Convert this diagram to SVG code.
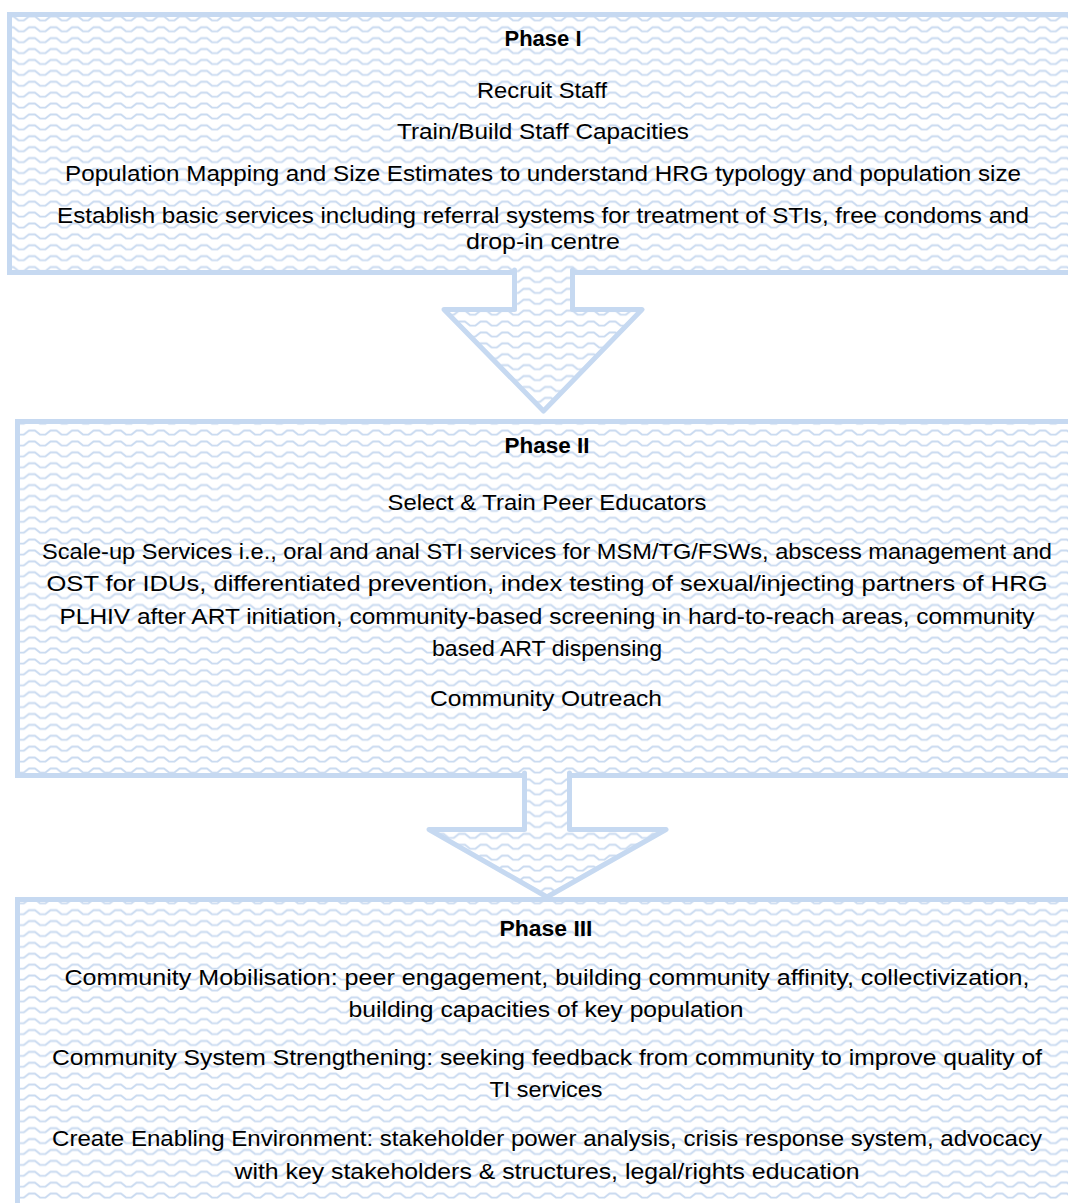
<svg xmlns="http://www.w3.org/2000/svg" width="1068" height="1203" viewBox="0 0 1068 1203">
<defs>
<pattern id="wave" patternUnits="userSpaceOnUse" x="0" y="2" width="21.5" height="10.9">
<rect width="21.5" height="10.9" fill="#ffffff"/>
<path d="M-1 7.5 L2.5 7.5 L7.5 3.5 L13.5 3.5 L18.5 7.5 L22.5 7.5" fill="none" stroke="#c9daf0" stroke-width="1.8"/>
</pattern>
</defs>
<style>
.box{fill:url(#wave);stroke:#c6d9f1;stroke-width:5}
.afill{fill:url(#wave);stroke:none}
.aline{fill:none;stroke:#c6d9f1;stroke-width:5;stroke-linejoin:round;stroke-linecap:round}
text{font-family:"Liberation Sans",Arial,sans-serif;font-size:22px;fill:#000;text-anchor:middle}
.t{font-weight:bold}
</style>
<rect width="1068" height="1203" fill="#ffffff"/>
<g id="phase1">
<rect class="box" x="9.5" y="14.5" width="1075" height="258"/>
<text class="t" x="543" y="46" textLength="77" lengthAdjust="spacingAndGlyphs">Phase I</text>
<text x="542" y="98" textLength="130" lengthAdjust="spacingAndGlyphs">Recruit Staff</text>
<text x="543" y="139" textLength="292" lengthAdjust="spacingAndGlyphs">Train/Build Staff Capacities</text>
<text x="543" y="181" textLength="956" lengthAdjust="spacingAndGlyphs">Population Mapping and Size Estimates to understand HRG typology and population size</text>
<text x="543" y="223" textLength="972" lengthAdjust="spacingAndGlyphs">Establish basic services including referral systems for treatment of STIs, free condoms and</text>
<text x="543" y="249" textLength="154" lengthAdjust="spacingAndGlyphs">drop-in centre</text>
</g>
<g id="phase2">
<rect class="box" x="17.5" y="421.5" width="1065" height="354"/>
<text class="t" x="547" y="453" textLength="85" lengthAdjust="spacingAndGlyphs">Phase II</text>
<text x="547" y="510" textLength="319" lengthAdjust="spacingAndGlyphs">Select &amp; Train Peer Educators</text>
<text x="547" y="559" textLength="1010" lengthAdjust="spacingAndGlyphs">Scale-up Services i.e., oral and anal STI services for MSM/TG/FSWs, abscess management and</text>
<text x="547" y="591" textLength="1001" lengthAdjust="spacingAndGlyphs">OST for IDUs, differentiated prevention, index testing of sexual/injecting partners of HRG</text>
<text x="547" y="624" textLength="975" lengthAdjust="spacingAndGlyphs">PLHIV after ART initiation, community-based screening in hard-to-reach areas, community</text>
<text x="547" y="656" textLength="230" lengthAdjust="spacingAndGlyphs">based ART dispensing</text>
<text x="546" y="706" textLength="232" lengthAdjust="spacingAndGlyphs">Community Outreach</text>
</g>
<g id="phase3">
<rect class="box" x="17.5" y="899.5" width="1065" height="330"/>
<text class="t" x="546" y="936" textLength="93" lengthAdjust="spacingAndGlyphs">Phase III</text>
<text x="547" y="985" textLength="965" lengthAdjust="spacingAndGlyphs">Community Mobilisation: peer engagement, building community affinity, collectivization,</text>
<text x="546" y="1017" textLength="395" lengthAdjust="spacingAndGlyphs">building capacities of key population</text>
<text x="547" y="1065" textLength="990" lengthAdjust="spacingAndGlyphs">Community System Strengthening: seeking feedback from community to improve quality of</text>
<text x="546" y="1097" textLength="113" lengthAdjust="spacingAndGlyphs">TI services</text>
<text x="547" y="1146" textLength="990" lengthAdjust="spacingAndGlyphs">Create Enabling Environment: stakeholder power analysis, crisis response system, advocacy</text>
<text x="547" y="1179" textLength="625" lengthAdjust="spacingAndGlyphs">with key stakeholders &amp; structures, legal/rights education</text>
</g>
<g id="connectors">
<g id="arrow1">
<polygon class="afill" points="514.5,268 572.5,268 572.5,309.5 642,309.5 543.5,411 444,309.5 514.5,309.5"/>
<polyline class="aline" points="514.5,270 514.5,309.5 444,309.5 543.5,411 642,309.5 572.5,309.5 572.5,270"/>
</g>
<g id="arrow2">
<polygon class="afill" points="524.5,771 569.5,771 569.5,829.5 666,829.5 547,897 429,829.5 524.5,829.5"/>
<polyline class="aline" points="524.5,773 524.5,829.5 429,829.5 547,897 666,829.5 569.5,829.5 569.5,773"/>
</g>
</g>
</svg>
